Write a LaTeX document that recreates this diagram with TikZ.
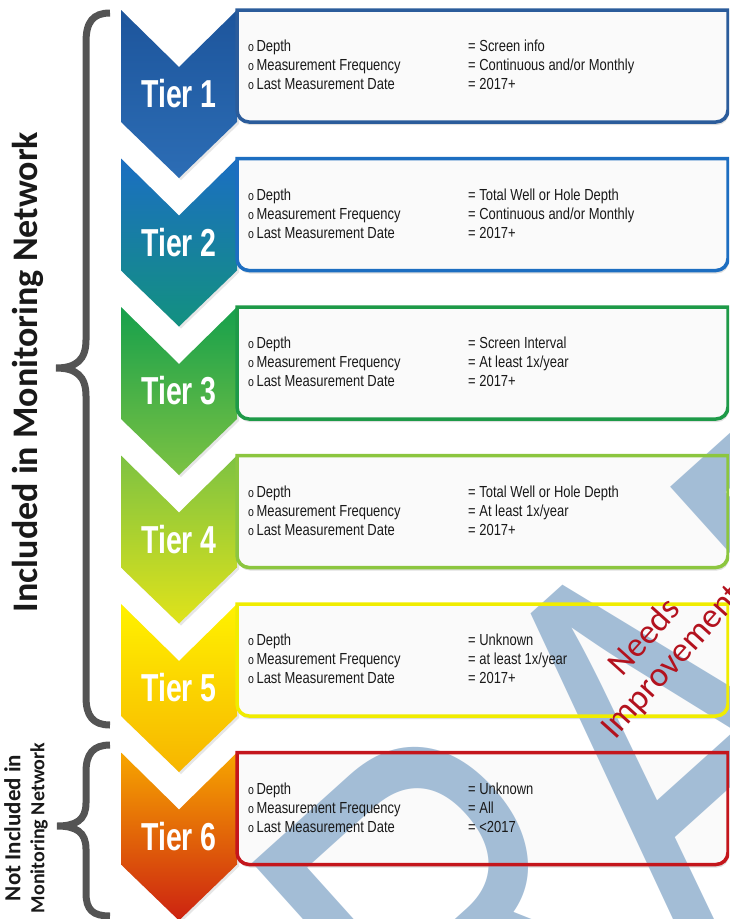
\documentclass[tikz,border=0pt]{standalone}
\usepackage{fontspec}
\setmainfont{Liberation Sans}
\newfontfamily\narrowfont{Liberation Sans}[FakeStretch=0.81]
\newfontfamily\tierfont{Liberation Sans}[FakeStretch=0.73]
\newfontfamily\wmfont{Liberation Sans}[FakeStretch=0.75]
\newfontfamily\calfont{Carlito}
\usetikzlibrary{positioning,shadows}

\definecolor{rim1}{HTML}{2B5C9B}
\definecolor{rim2}{HTML}{1D6EC1}
\definecolor{rim3}{HTML}{1E9A48}
\definecolor{rim4}{HTML}{8CC63F}
\definecolor{rim5}{HTML}{F0EC00}
\definecolor{rim6}{HTML}{C4161C}
\definecolor{top1}{HTML}{1D559C}\definecolor{bot1}{HTML}{2C6DB5}
\definecolor{top2}{HTML}{1B6EC2}\definecolor{bot2}{HTML}{139180}
\definecolor{top3}{HTML}{16A04C}\definecolor{bot3}{HTML}{7CC242}
\definecolor{top4}{HTML}{7DC242}\definecolor{bot4}{HTML}{E0E31A}
\definecolor{top5}{HTML}{FFF200}\definecolor{bot5}{HTML}{F7B500}
\definecolor{top6}{HTML}{F7A600}\definecolor{bot6}{HTML}{CC2211}
\definecolor{wmblue}{HTML}{A3BDD6}
\definecolor{needred}{HTML}{B3121E}

\newcommand{\bl}{{\fontsize{13}{13}\selectfont o}\hspace{2.5pt}}

\begin{document}
\begin{tikzpicture}[
    x=1pt, y=-1pt,
    node distance=36.5pt,
    boxpath/.style={insert path={(#1.north west) -- (#1.north east) [rounded corners=12pt] -- (#1.south east) -- (#1.south west) [sharp corners] -- cycle}},
    box/.style={rectangle, minimum width=491pt, minimum height=112pt, inner sep=0pt, outer sep=0pt},
    boxfill/.style={fill=black!2, drop shadow={opacity=0.25, shadow xshift=1pt, shadow yshift=-3pt}},
    rim/.style={draw=#1, line width=3.5pt},
    chevron/.style 2 args={top color=#1, bottom color=#2, drop shadow={opacity=0.2, shadow xshift=2pt, shadow yshift=-2pt}},
    tier/.style={font=\tierfont\bfseries\fontsize{39}{39}\selectfont, text=white, inner sep=0pt},
    info/.style={font=\narrowfont\fontsize{16}{19}\selectfont, align=left, anchor=west, inner sep=0pt, text=black!90},
    brace/.style={draw=black!67, line width=7pt},
    side/.style={font=\calfont\bfseries, rotate=90, text=black!90, align=center}
]
\useasboundingbox (0,0) rectangle (729,919);
\clip (0,0) rectangle (729,919);

% Boxes
\node[box] (b1) at (482.5,66) {};
\node[box, below=of b1] (b2) {};
\node[box, below=of b2] (b3) {};
\node[box, below=of b3] (b4) {};
\node[box, below=of b4] (b5) {};
\node[box, below=of b5] (b6) {};

% Chevrons
\shade[chevron={top1}{bot1}] (b1.north west) -- ++(-58,57) -- ++(-58,-57) -- ++(0,112) -- ++(58,56) -- ++(58,-56) -- cycle;
\shade[chevron={top2}{bot2}] (b2.north west) -- ++(-58,57) -- ++(-58,-57) -- ++(0,112) -- ++(58,56) -- ++(58,-56) -- cycle;
\shade[chevron={top3}{bot3}] (b3.north west) -- ++(-58,57) -- ++(-58,-57) -- ++(0,112) -- ++(58,56) -- ++(58,-56) -- cycle;
\shade[chevron={top4}{bot4}] (b4.north west) -- ++(-58,57) -- ++(-58,-57) -- ++(0,112) -- ++(58,56) -- ++(58,-56) -- cycle;
\shade[chevron={top5}{bot5}] (b5.north west) -- ++(-58,57) -- ++(-58,-57) -- ++(0,112) -- ++(58,56) -- ++(58,-56) -- cycle;
\shade[chevron={top6}{bot6}] (b6.north west) -- ++(-58,57) -- ++(-58,-57) -- ++(0,112) -- ++(58,56) -- ++(58,-56) -- cycle;

\fill[boxfill, boxpath=b1];
\fill[boxfill, boxpath=b2];
\fill[boxfill, boxpath=b3];
\fill[boxfill, boxpath=b4];
\fill[boxfill, boxpath=b5];
\fill[boxfill, boxpath=b6];

% Watermark
\node[font=\wmfont\fontsize{540}{540}\selectfont, text=wmblue, rotate=42, anchor=base, inner sep=0pt] (wmark) at (761,906) {DRAFT};

\draw[rim=rim1, boxpath=b1];
\draw[rim=rim2, boxpath=b2];
\draw[rim=rim3, boxpath=b3];
\draw[rim=rim4, boxpath=b4];
\draw[rim=rim5, boxpath=b5];
\draw[rim=rim6, boxpath=b6];

% Tier labels
\node[tier] (t1) at ([xshift=-58pt, yshift=-28pt]b1.west) {Tier 1};
\node[tier] (t2) at ([xshift=-58pt, yshift=-28pt]b2.west) {Tier 2};
\node[tier] (t3) at ([xshift=-58pt, yshift=-28pt]b3.west) {Tier 3};
\node[tier] (t4) at ([xshift=-58pt, yshift=-28pt]b4.west) {Tier 4};
\node[tier] (t5) at ([xshift=-58pt, yshift=-28pt]b5.west) {Tier 5};
\node[tier] (t6) at ([xshift=-58pt, yshift=-28pt]b6.west) {Tier 6};

% Criteria
\node[info] (k1) at ([xshift=11pt, yshift=1pt]b1.west) {\bl Depth\\\bl Measurement Frequency\\\bl Last Measurement Date};
\node[info] (v1) at ([xshift=231pt, yshift=1pt]b1.west) {= Screen info\\= Continuous and/or Monthly\\= 2017+};
\node[info] (k2) at ([xshift=11pt, yshift=1pt]b2.west) {\bl Depth\\\bl Measurement Frequency\\\bl Last Measurement Date};
\node[info] (v2) at ([xshift=231pt, yshift=1pt]b2.west) {= Total Well or Hole Depth\\= Continuous and/or Monthly\\= 2017+};
\node[info] (k3) at ([xshift=11pt, yshift=1pt]b3.west) {\bl Depth\\\bl Measurement Frequency\\\bl Last Measurement Date};
\node[info] (v3) at ([xshift=231pt, yshift=1pt]b3.west) {= Screen Interval\\= At least 1x/year\\= 2017+};
\node[info] (k4) at ([xshift=11pt, yshift=1pt]b4.west) {\bl Depth\\\bl Measurement Frequency\\\bl Last Measurement Date};
\node[info] (v4) at ([xshift=231pt, yshift=1pt]b4.west) {= Total Well or Hole Depth\\= At least 1x/year\\= 2017+};
\node[info] (k5) at ([xshift=11pt, yshift=1pt]b5.west) {\bl Depth\\\bl Measurement Frequency\\\bl Last Measurement Date};
\node[info] (v5) at ([xshift=231pt, yshift=1pt]b5.west) {= Unknown\\= at least 1x/year\\= 2017+};
\node[info] (k6) at ([xshift=11pt, yshift=1pt]b6.west) {\bl Depth\\\bl Measurement Frequency\\\bl Last Measurement Date};
\node[info] (v6) at ([xshift=231pt, yshift=1pt]b6.west) {= Unknown\\= All\\= <2017};

% Braces and group labels
\draw[brace] (110,13) .. controls (93,13) and (86,22) .. (86,42) -- (86,340) .. controls (86,360) and (76,368) .. (56,368) .. controls (76,368) and (86,376) .. (86,396) -- (86,697) .. controls (86,716) and (93,725) .. (110,725);
\draw[brace] (110,745) .. controls (93,745) and (86,754) .. (86,772) -- (86,803) .. controls (86,820) and (76,826) .. (57,826) .. controls (76,826) and (86,832) .. (86,849) -- (86,893) .. controls (86,910) and (93,916) .. (110,916);
\node[side, font=\calfont\bfseries\fontsize{36}{36}\selectfont] (inc) at (28,372) {Included in Monitoring Network};
\node[side, font=\calfont\bfseries\fontsize{20}{24}\selectfont] (notinc) at (26,828) {{\fontsize{23}{24}\selectfont Not Included in}\\Monitoring Network};

\node[font=\calfont\fontsize{35}{37}\selectfont, text=needred, rotate=48, align=center] (needs) at (659,650) {Needs\\Improvement};

\end{tikzpicture}
\end{document}
